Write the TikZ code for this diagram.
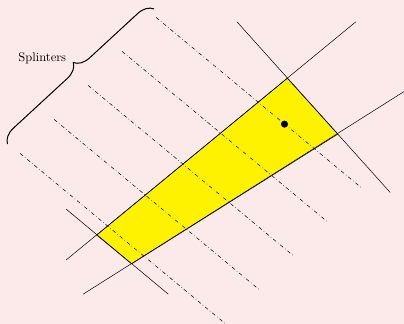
\documentclass[tikz,border=0pt]{standalone}
\usepackage{xcolor}
\definecolor{bgpink}{RGB}{252,233,233}
\usetikzlibrary{decorations.pathreplacing}

\begin{document}
\begin{tikzpicture}[
    splinter/.style={dash dot, line width=0.4pt},
    boundary/.style={line width=0.4pt},
  ]
  % Background and page size
  \fill[bgpink] (0,0) rectangle (11.36,9.11);
  \useasboundingbox (0,0) rectangle (11.36,9.11);

  % Corners of the yellow region
  \coordinate (T) at (8.08,6.91);
  \coordinate (R) at (9.50,5.34);
  \coordinate (B) at (3.70,1.69);
  \coordinate (L) at (2.72,2.50);

  % Ends of the boundary lines
  \coordinate (tl1) at (1.86,1.80);
  \coordinate (tl2) at (10.01,8.50);
  \coordinate (tr1) at (6.66,8.50);
  \coordinate (tr2) at (10.97,3.70);
  \coordinate (rb1) at (11.70,6.75);
  \coordinate (rb2) at (2.34,0.84);
  \coordinate (lb1) at (1.86,3.23);
  \coordinate (lb2) at (4.73,0.84);

  % Yellow region
  \filldraw[fill=yellow, draw=black, boundary] (T) -- (R) -- (B) -- (L) -- cycle;

  % Splinter lines
  \foreach \i in {0,...,4} {
    \draw[splinter] (4.39-0.956*\i, 8.62-0.956*\i) -- (10.15-0.956*\i, 3.84-0.956*\i);
  }

  % Boundary lines
  \draw[boundary] (tl1) -- (tl2);
  \draw[boundary] (tr1) -- (tr2);
  \draw[boundary] (rb1) -- (rb2);
  \draw[boundary] (lb1) -- (lb2);

  % Point
  \fill (8.00,5.62) circle (0.1);

  % Brace and label
  \coordinate (br1) at (0.21,5.06);
  \coordinate (br2) at (4.33,8.86);
  \draw[thick, decorate, decoration={brace, amplitude=0.43cm, aspect=0.52}] (br1) -- (br2);
  \node (lbl) at (1.19,7.47) {Splinters};
\end{tikzpicture}
\end{document}
